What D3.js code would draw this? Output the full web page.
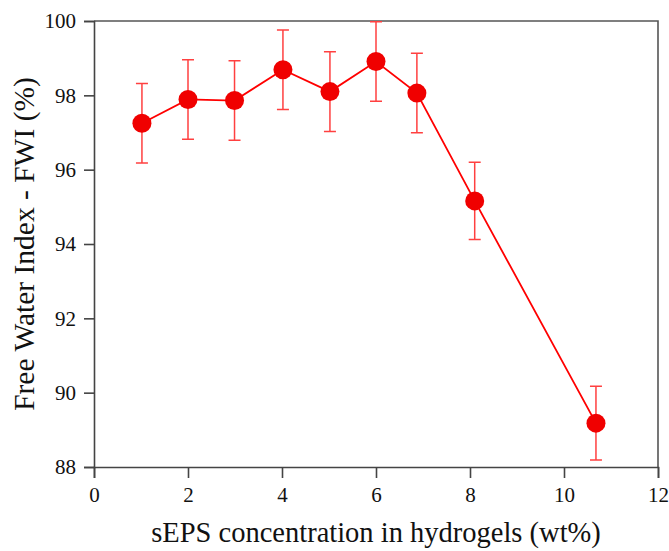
<!DOCTYPE html>
<html>
<head>
<meta charset="utf-8">
<script src="https://cdn.jsdelivr.net/npm/d3@7"></script>
<style>
  body { margin: 0; background: #fff; }
</style>
</head>
<body>
<div id="wrapper"></div>
<script>
// sEPS concentration (wt%) and FWI (%)
const concentration = [1.02, 2.0, 2.99, 4.02, 5.02, 6.0, 6.87, 8.1, 10.68];
const fwi = [97.25, 97.89, 97.86, 98.69, 98.1, 98.91, 98.06, 95.16, 89.18];
const fwiError = [1.07, 1.07, 1.07, 1.07, 1.07, 1.07, 1.07, 1.04, 0.99];
const xTicks = [0, 2, 4, 6, 8, 10, 12];
const yTicks = [88, 90, 92, 94, 96, 98, 100];

const serif = "'Liberation Serif'";

const data = concentration.map((c, i) => ({ x: c, y: fwi[i], err: fwiError[i] }));
const xAccessor = (d) => d.x;
const yAccessor = (d) => d.y;

const dimensions = {
    width: 669,
    height: 551,
    margin: { top: 21, right: 11, bottom: 84, left: 94 },
};
dimensions.boundedWidth = dimensions.width - dimensions.margin.left - dimensions.margin.right;
dimensions.boundedHeight = dimensions.height - dimensions.margin.top - dimensions.margin.bottom;

const wrapper = d3.select("#wrapper")
    .append("svg")
    .attr("width", dimensions.width)
    .attr("height", dimensions.height);

const bounds = wrapper.append("g")
    .attr("transform", `translate(${dimensions.margin.left},${dimensions.margin.top})`);

const xScale = d3.scaleLinear().domain([0, 12]).range([0, dimensions.boundedWidth]);
const yScale = d3.scaleLinear().domain([88, 100]).range([dimensions.boundedHeight, 0]);

// frame (top + right)
bounds.append("path")
    .attr("d", `M0,0H${dimensions.boundedWidth}V${dimensions.boundedHeight}`)
    .attr("fill", "none")
    .attr("stroke", "#555")
    .attr("stroke-width", 1.6);

const yAxis = bounds.append("g")
    .call(d3.axisLeft(yScale).tickValues(yTicks).tickSize(10).tickPadding(8).tickFormat(d3.format("d")));
const xAxis = bounds.append("g")
    .attr("transform", `translate(0,${dimensions.boundedHeight})`)
    .call(d3.axisBottom(xScale).tickValues(xTicks).tickSize(11).tickPadding(9).tickFormat(d3.format("d")));

[xAxis, yAxis].forEach((ax) => {
    ax.attr("font-family", serif).attr("font-size", 21);
    ax.select(".domain").attr("stroke", "#444").attr("stroke-width", 1.6);
    ax.selectAll(".tick line").attr("stroke", "#444").attr("stroke-width", 1.6);
    ax.selectAll(".tick text").attr("fill", "#111");
});

// error bars
const capHalf = 6;
const errs = bounds.append("g")
    .attr("stroke", "#ff4040")
    .attr("stroke-width", 1.5)
    .attr("fill", "none");
errs.selectAll("path")
    .data(data)
    .join("path")
    .attr("d", (d) => {
        const x = xScale(xAccessor(d));
        const y0 = yScale(d.y - d.err);
        const y1 = yScale(d.y + d.err);
        return `M${x},${y0}V${y1}M${x - capHalf},${y0}H${x + capHalf}M${x - capHalf},${y1}H${x + capHalf}`;
    });

const lineGenerator = d3.line()
    .x((d) => xScale(xAccessor(d)))
    .y((d) => yScale(yAccessor(d)));

bounds.append("path")
    .attr("d", lineGenerator(data))
    .attr("fill", "none")
    .attr("stroke", "#ff0000")
    .attr("stroke-width", 1.8);

bounds.selectAll("circle")
    .data(data)
    .join("circle")
    .attr("cx", (d) => xScale(xAccessor(d)))
    .attr("cy", (d) => yScale(yAccessor(d)))
    .attr("r", 9.5)
    .attr("fill", "#f00000");

// axis titles
wrapper.append("text")
    .attr("x", dimensions.margin.left + dimensions.boundedWidth / 2)
    .attr("y", 542)
    .attr("text-anchor", "middle")
    .attr("font-family", serif)
    .attr("font-size", 28.5)
    .attr("fill", "#111")
    .text("sEPS concentration in hydrogels (wt%)");

wrapper.append("text")
    .attr("transform", `translate(34,${dimensions.margin.top + dimensions.boundedHeight / 2}) rotate(-90)`)
    .attr("text-anchor", "middle")
    .attr("font-family", serif)
    .attr("font-size", 29.5)
    .attr("fill", "#111")
    .text("Free Water Index - FWI (%)");
</script>
</body>
</html>
